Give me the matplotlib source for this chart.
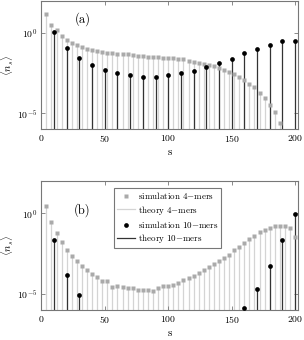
import numpy as np
import matplotlib
matplotlib.use("Agg")
import matplotlib.pyplot as plt
from matplotlib.lines import Line2D

plt.rcParams['font.family'] = 'serif'
plt.rcParams['font.serif'] = ['cmr10', 'DejaVu Serif']
plt.rcParams['mathtext.fontset'] = 'cm'
plt.rcParams['axes.formatter.use_mathtext'] = True
plt.rcParams['axes.unicode_minus'] = False

# ---------------- data (log10 of <n_s>) ----------------
s4_a = np.arange(4, 189, 4)
log_sim4_a = [1.17, 0.49, 0.15, -0.19, -0.45, -0.62, -0.76, -0.89, -1.01, -1.07,
              -1.13, -1.20, -1.26, -1.28, -1.30, -1.32, -1.34, -1.36, -1.44, -1.45,
              -1.48, -1.50, -1.50, -1.55, -1.57, -1.59, -1.61, -1.65, -1.73, -1.79,
              -1.85, -1.92, -1.98, -2.06, -2.16, -2.29, -2.41, -2.55, -2.76, -2.96,
              -3.19, -3.38, -3.73, -4.08, -4.51, -4.92, -5.62]
s10 = np.arange(10, 201, 10)
log_sim10_a = [0.06, -0.93, -1.55, -1.98, -2.33, -2.53, -2.65, -2.74, -2.74, -2.65,
               -2.49, -2.35, -2.14, -1.87, -1.63, -1.28, -1.01, -0.74, -0.52, -0.52]

s4_b = np.arange(4, 201, 4)
log_sim4_b = [0.47, -0.55, -1.22, -1.77, -2.26, -2.66, -2.95, -3.27, -3.52, -3.79,
              -3.96, -4.18, -4.20, -4.57, -4.50, -4.58, -4.64, -4.66, -4.77, -4.78,
              -4.78, -4.80, -4.62, -4.53, -4.51, -4.43, -4.29, -4.15, -4.01, -3.86,
              -3.70, -3.54, -3.34, -3.15, -2.97, -2.77, -2.56, -2.30, -2.07, -1.83,
              -1.59, -1.38, -1.18, -1.02, -0.88, -0.77, -0.75, -0.77, -0.88, -1.46]
log_sim10_b = [-1.63, -3.80, -5.08, np.nan, np.nan, np.nan, np.nan, np.nan, np.nan, np.nan,
               np.nan, np.nan, np.nan, np.nan, np.nan, -5.88, -4.68, -3.25, -1.63, -0.02]

# theory curves (coincide with simulation within the picture's resolution)
log_th4_a, log_th10_a = log_sim4_a, log_sim10_a
log_th4_b, log_th10_b = log_sim4_b, log_sim10_b

labels = ['simulation 4$-$mers', 'theory 4$-$mers',
          'simulation 10$-$mers', 'theory 10$-$mers']
xticks = [0, 50, 100, 150, 200]
yticks = [1e-5, 1e0]

c_sq = '#aaaaaa'
c_th4 = '#d4d4d4'
c_th10 = '#333333'
c_spine = '#777777'

fig = plt.figure(figsize=(3.04, 3.40), dpi=100)
ax_a = fig.add_axes([0.136, 0.620, 0.843, 0.378])
ax_b = fig.add_axes([0.136, 0.088, 0.843, 0.379])


def panel(ax, s4, l4, lt4, l10, lt10, tag, tag_y):
    y4 = 10.0 ** np.asarray(l4)
    yt4 = 10.0 ** np.asarray(lt4)
    y10 = 10.0 ** np.asarray(l10, dtype=float)
    yt10 = 10.0 ** np.asarray(lt10, dtype=float)
    base = 1e-7
    ax.vlines(s4, base, yt4, color=c_th4, lw=0.9, zorder=1)
    ok = ~np.isnan(yt10)
    ax.vlines(s10[ok], base, yt10[ok], color=c_th10, lw=0.9, zorder=2)
    ax.plot(s4, y4, 's', color=c_sq, ms=3.0, mec='none', zorder=3)
    ax.plot(s10, y10, 'o', color='black', ms=3.4, mec='none', zorder=4)
    ax.set_yscale('log')
    ax.set_ylim(1e-6, 1e2)
    ax.set_xlim(0, 202)
    ax.set_xticks(xticks)
    ax.set_yticks(yticks)
    ax.yaxis.set_minor_locator(matplotlib.ticker.NullLocator())
    ax.tick_params(direction='in', top=True, right=True, length=3,
                   width=0.6, color=c_spine, labelsize=7, pad=3)
    for sp in ax.spines.values():
        sp.set_color(c_spine)
        sp.set_linewidth(0.8)
    ax.set_xlabel('s', fontsize=8)
    ax.xaxis.set_label_coords(0.5, -0.145)
    ax.set_ylabel(r'$\langle n_s \rangle$', fontsize=7.5)
    ax.yaxis.set_label_coords(-0.098, 0.5)
    ax.text(0.16, tag_y, tag, transform=ax.transAxes, fontsize=9,
            ha='center', va='center')


panel(ax_a, s4_a, log_sim4_a, log_th4_a, log_sim10_a, log_th10_a, '(a)', 0.858)
panel(ax_b, s4_b, log_sim4_b, log_th4_b, log_sim10_b, log_th10_b, '(b)', 0.775)

handles = [Line2D([], [], ls='none', marker='s', color=c_sq, ms=3.0, mec='none'),
           Line2D([], [], color=c_th4, lw=0.9),
           Line2D([], [], ls='none', marker='o', color='black', ms=3.4, mec='none'),
           Line2D([], [], color=c_th10, lw=0.9)]
leg = ax_b.legend(handles, labels, loc='upper right', bbox_to_anchor=(0.70, 0.95),
                  fontsize=6.5, fancybox=False, framealpha=1, edgecolor=c_spine,
                  handlelength=2.0, handletextpad=0.3, borderpad=0.3,
                  labelspacing=0.25, borderaxespad=0)
leg.get_frame().set_linewidth(0.8)

fig.savefig('out.png', dpi=100)
